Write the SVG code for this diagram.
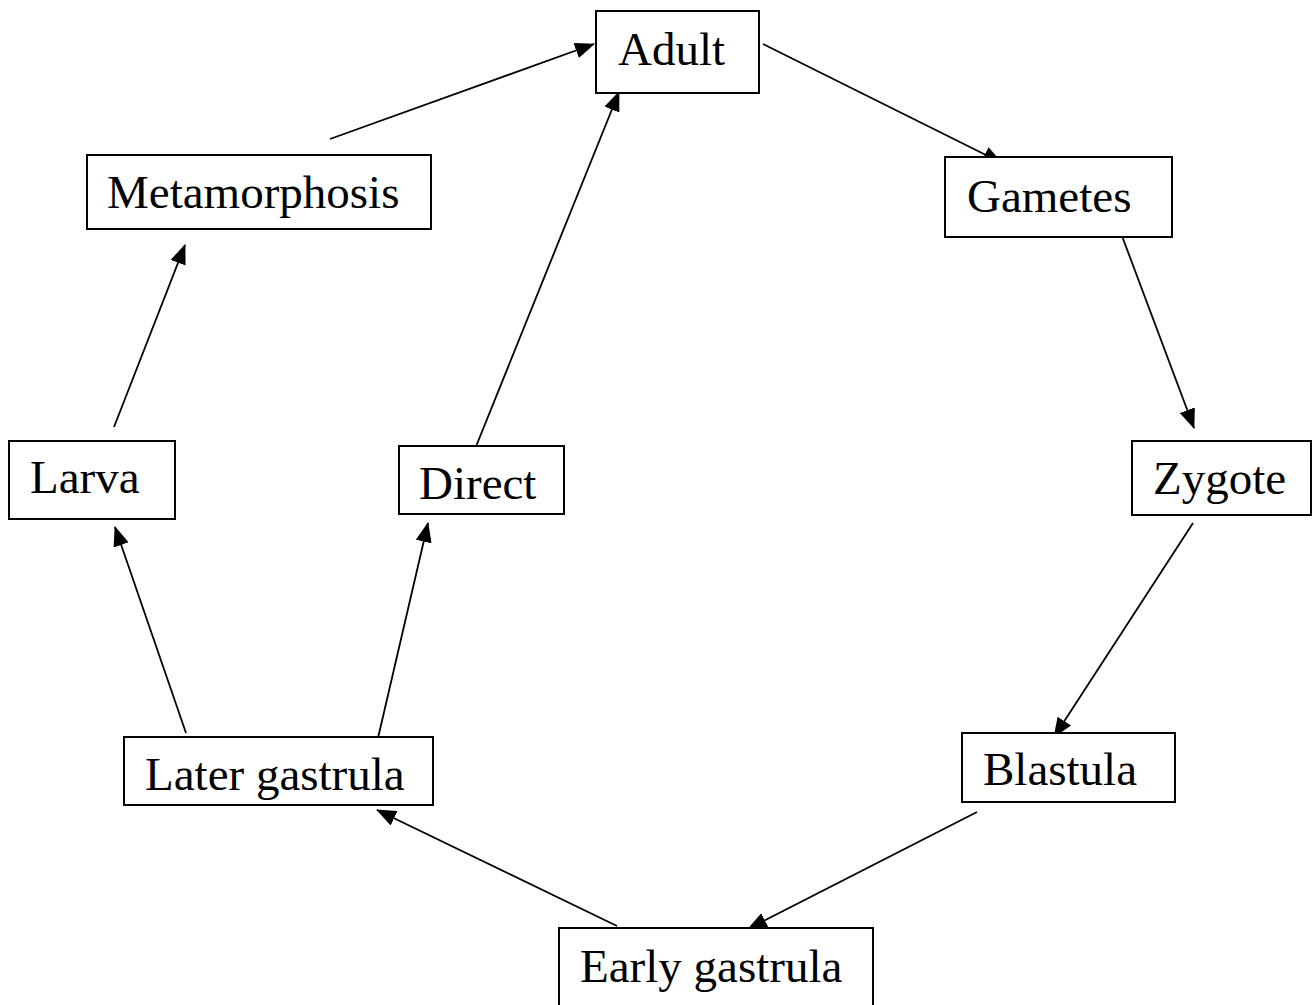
<svg xmlns="http://www.w3.org/2000/svg" width="1316" height="1005" viewBox="0 0 1316 1005">
<style>
.box{fill:#fff;stroke:#000;stroke-width:2}
.lbl{font-family:"Liberation Serif","Times New Roman",serif;font-size:47px;fill:#000}
.edge{stroke:#000;stroke-width:1.8;fill:none;marker-end:url(#arr)}
</style>
<defs>
<marker id="arr" markerUnits="userSpaceOnUse" markerWidth="20" markerHeight="16" viewBox="0 0 20 16" refX="19" refY="8" orient="auto">
<path d="M0,0 L20,8 L0,16 z" fill="#000"/>
</marker>
</defs>
<rect width="1316" height="1005" fill="#fff"/>
<g id="connectors">
<line class="edge" x1="330" y1="139" x2="594" y2="44"/>
<line class="edge" x1="763" y1="44" x2="1002" y2="163"/>
<line class="edge" x1="1122" y1="236" x2="1194" y2="428"/>
<line class="edge" x1="1193" y1="523" x2="1054" y2="737"/>
<line class="edge" x1="977" y1="812" x2="748" y2="929"/>
<line class="edge" x1="617" y1="926" x2="377" y2="810"/>
<line class="edge" x1="186" y1="733" x2="115" y2="527"/>
<line class="edge" x1="378" y1="738" x2="428" y2="523"/>
<line class="edge" x1="114" y1="427" x2="185" y2="245"/>
<line class="edge" x1="475" y1="449" x2="619" y2="92"/>
</g>
<g id="adult"><rect class="box" x="596" y="11" width="163" height="82"/><text class="lbl" x="618" y="65">Adult</text></g>
<g id="metamorphosis"><rect class="box" x="87" y="155" width="344" height="74"/><text class="lbl" x="107" y="208">Metamorphosis</text></g>
<g id="gametes"><rect class="box" x="945" y="157" width="227" height="80"/><text class="lbl" x="967" y="212">Gametes</text></g>
<g id="larva"><rect class="box" x="9" y="441" width="166" height="78"/><text class="lbl" x="30" y="493">Larva</text></g>
<g id="direct"><rect class="box" x="399" y="446" width="165" height="68"/><text class="lbl" x="419" y="499">Direct</text></g>
<g id="zygote"><rect class="box" x="1132" y="441" width="179" height="74"/><text class="lbl" x="1153" y="494">Zygote</text></g>
<g id="later-gastrula"><rect class="box" x="124" y="737" width="309" height="68"/><text class="lbl" x="145" y="790">Later gastrula</text></g>
<g id="blastula"><rect class="box" x="962" y="733" width="213" height="69"/><text class="lbl" x="983" y="785">Blastula</text></g>
<g id="early-gastrula"><rect class="box" x="559" y="928" width="314" height="90"/><text class="lbl" x="580" y="982">Early gastrula</text></g>
</svg>
